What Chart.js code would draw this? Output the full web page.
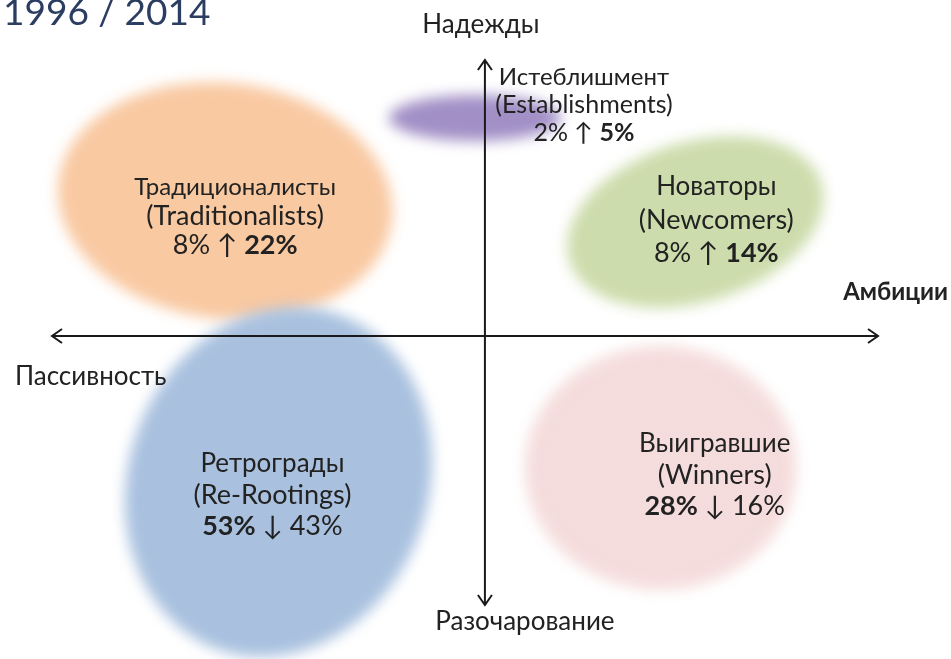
<!DOCTYPE html>
<html>
<head>
<meta charset="utf-8">
<title>1996 / 2014</title>
<script src="https://cdn.jsdelivr.net/npm/chart.js@4.4.0/dist/chart.umd.min.js"></script>
<style>
  html, body { margin: 0; padding: 0; background: #fff; }
  #wrap { width: 951px; height: 659px; }
</style>
</head>
<body>
<div id="wrap"><canvas id="myChart" width="951" height="659"></canvas></div>
<script>
// segments and their share, 1996 -> 2014
var groups = ["Истеблишмент", "Традиционалисты", "Новаторы", "Ретрограды", "Выигравшие"];
var groupsEn = ["(Establishments)", "(Traditionalists)", "(Newcomers)", "(Re-Rootings)", "(Winners)"];
var share1996 = [2, 8, 8, 53, 28];
var share2014 = [5, 22, 14, 43, 16];
// place on the map: x = passivity (-) .. ambition (+), y = disappointment (-) .. hope (+)
var ambition = [-0.23, -6.0, 4.86, -4.77, 4.06];
var hope = [7.9, 4.89, 4.13, -5.29, -4.78];
var axisLabels = { up: "Надежды", down: "Разочарование", left: "Пассивность", right: "Амбиции" };
var title = "1996 / 2014";

// looks of each blob (px radii, rotation, colour, where the text goes)
var blobStyle = [
    { rx: 86, ry: 23, rot: 0, color: "#a18fc6", tx: 109, ty: -13, size: 25, ru: 24, gap: 28 },
    { rx: 168, ry: 118, rot: 0.12, color: "#f9c9a2", tx: 10, ty: 15, size: 27, ru: 24, gap: 29 },
    { rx: 132, ry: 80, rot: -0.3, color: "#cddcac", tx: 21, ty: -2, size: 27, ru: 26, gap: 33 },
    { rx: 150, ry: 178, rot: 0.35, color: "#a9c1df", tx: -6, ty: 13, size: 27, ru: 26, gap: 31 },
    { rx: 136, ry: 122, rot: 0, color: "pattern", tx: 54, ty: 7, size: 27, ru: 26, gap: 31 }
];

var FONT = "Lato, 'Open Sans', sans-serif";

function dotPattern(ctx) {
    var c = document.createElement("canvas");
    c.width = 4; c.height = 4;
    var p = c.getContext("2d");
    p.fillStyle = "#f8e4e4";
    p.fillRect(0, 0, 4, 4);
    p.fillStyle = "#e4a8a8";
    p.fillRect(0, 0, 1, 1);
    p.fillRect(2, 2, 1, 1);
    return ctx.createPattern(c, "repeat");
}

var blobs = {
    id: "blobs",
    beforeDatasetsDraw: function(chart) {
        var ctx = chart.ctx, xs = chart.scales.x, ys = chart.scales.y;
        chart.data.datasets[0].data.forEach(function(pt, i) {
            var s = blobStyle[i];
            var cx = xs.getPixelForValue(pt.x), cy = ys.getPixelForValue(pt.y);
            ctx.save();
            ctx.filter = "blur(7px)";
            ctx.fillStyle = s.color == "pattern" ? dotPattern(ctx) : s.color;
            ctx.beginPath();
            ctx.ellipse(cx, cy, s.rx, s.ry, s.rot, 0, Math.PI * 2);
            ctx.fill();
            ctx.restore();
        });
    },
    afterDatasetsDraw: function(chart) {
        var ctx = chart.ctx, xs = chart.scales.x, ys = chart.scales.y;
        var x0 = xs.getPixelForValue(0), y0 = ys.getPixelForValue(0);
        var l = xs.getPixelForValue(xs.min), r = xs.getPixelForValue(xs.max);
        var t = ys.getPixelForValue(ys.max), b = ys.getPixelForValue(ys.min);

        ctx.save();
        ctx.strokeStyle = "#1a1a1a";
        ctx.lineWidth = 2;
        ctx.beginPath();
        ctx.moveTo(l, y0); ctx.lineTo(r, y0);
        ctx.moveTo(x0, t); ctx.lineTo(x0, b);
        // arrow heads
        ctx.moveTo(l + 10, y0 - 7); ctx.lineTo(l, y0); ctx.lineTo(l + 10, y0 + 7);
        ctx.moveTo(r - 10, y0 - 7); ctx.lineTo(r, y0); ctx.lineTo(r - 10, y0 + 7);
        ctx.moveTo(x0 - 7, t + 10); ctx.lineTo(x0, t); ctx.lineTo(x0 + 7, t + 10);
        ctx.moveTo(x0 - 7, b - 10); ctx.lineTo(x0, b); ctx.lineTo(x0 + 7, b - 10);
        ctx.stroke();

        ctx.fillStyle = "#222";
        ctx.textBaseline = "middle";
        ctx.font = "26px " + FONT;
        ctx.textAlign = "center";
        ctx.fillText(axisLabels.up, x0 - 4, 25);
        ctx.fillText(axisLabels.down, x0 + 40, 622);
        ctx.textAlign = "left";
        ctx.fillText(axisLabels.left, 15, 377);
        ctx.textAlign = "right";
        ctx.font = "bold 24px " + FONT;
        ctx.fillText(axisLabels.right, 948, 292);

        ctx.textAlign = "left";
        ctx.textBaseline = "alphabetic";
        ctx.font = "37px " + FONT;
        ctx.fillStyle = "#2b3d60";
        ctx.fillText(title, 3, 25);
        ctx.textBaseline = "middle";

        // labels inside the blobs
        chart.data.datasets[0].data.forEach(function(pt, i) {
            var s = blobStyle[i];
            var cx = xs.getPixelForValue(pt.x) + s.tx, cy = ys.getPixelForValue(pt.y) + s.ty;
            var gap = s.gap;
            ctx.fillStyle = "#222";
            ctx.textAlign = "center";
            ctx.font = s.ru + "px " + FONT;
            ctx.fillText(groups[i], cx, cy - gap);
            ctx.font = s.size + "px " + FONT;
            ctx.fillText(groupsEn[i], cx, cy);

            var a = share1996[i] + "%", m = share2014[i] > share1996[i] ? " ↑ " : " ↓ ", z = share2014[i] + "%";
            var boldA = share1996[i] > share2014[i];
            var fr = s.size + "px " + FONT, fb = "bold " + s.size + "px " + FONT;
            ctx.font = boldA ? fb : fr; var wa = ctx.measureText(a).width;
            ctx.font = fr; var wm = ctx.measureText(m).width;
            ctx.font = boldA ? fr : fb; var wz = ctx.measureText(z).width;
            var x = cx - (wa + wm + wz) / 2, y = cy + gap;
            ctx.textAlign = "left";
            ctx.font = boldA ? fb : fr; ctx.fillText(a, x, y);
            ctx.font = fr; ctx.fillText(m, x + wa, y);
            ctx.font = boldA ? fr : fb; ctx.fillText(z, x + wa + wm, y);
        });
        ctx.restore();
    }
};

var points = groups.map(function(g, i) { return { x: ambition[i], y: hope[i] }; });

var chart = new Chart(document.getElementById("myChart"), {
    type: "scatter",
    data: {
        labels: groups,
        datasets: [{ label: "segments", data: points, pointRadius: 0, pointHoverRadius: 0 }]
    },
    options: {
        responsive: false,
        animation: false,
        layout: { padding: { left: 52, right: 73, top: 60, bottom: 54 } },
        plugins: { legend: { display: false }, tooltip: { enabled: false } },
        scales: {
            x: { type: "linear", display: false, min: -10, max: 9.08 },
            y: { type: "linear", display: false, min: -9.75, max: 10 }
        }
    },
    plugins: [blobs]
});
</script>
</body>
</html>
